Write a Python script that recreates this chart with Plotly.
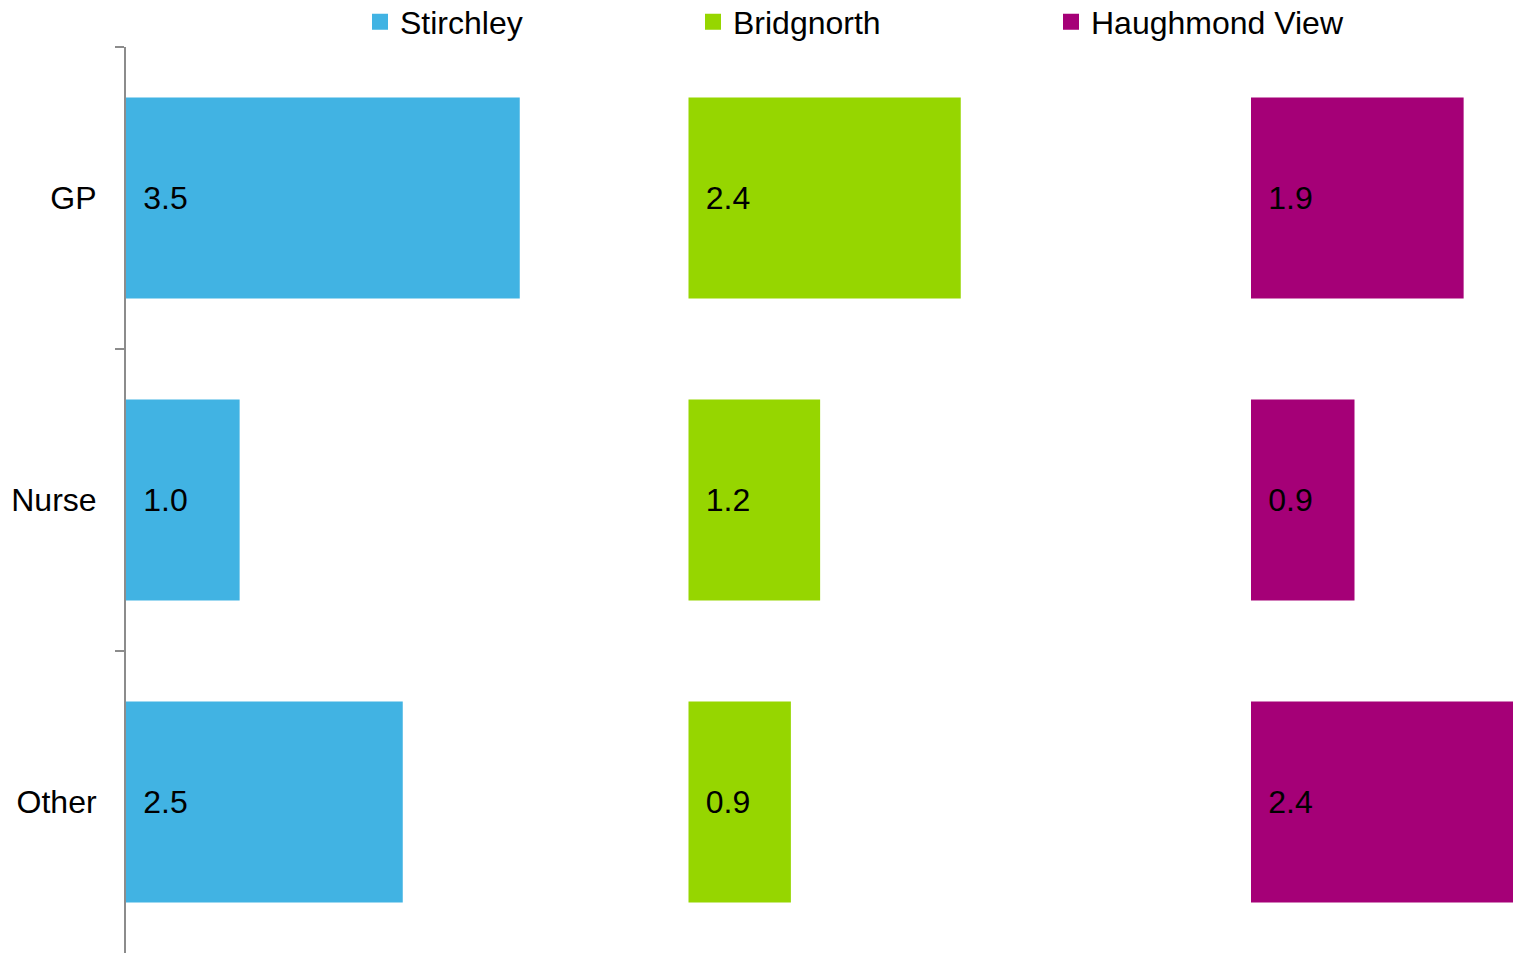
import plotly.graph_objects as go

categories = ["GP", "Nurse", "Other"]
series_names = ["Stirchley", "Bridgnorth", "Haughmond View"]
stirchley = [3.50, 1.01, 2.46]
bridgnorth = [2.42, 1.17, 0.91]
haughmond = [1.89, 0.92, 2.40]

series_values = [stirchley, bridgnorth, haughmond]
colors = ["#41B3E3", "#96D600", "#A50077"]
panel_base = [0, 5, 10]          # panel offsets on the value axis
legend_x_px = [360, 693, 1051]   # legend positions in pixels

W, H = 1513, 953
FONT = "Liberation Sans, Arial, sans-serif"
FS = 32

fig = go.Figure()
legend_ids = ["legend", "legend2", "legend3"]
for name, vals, col, base, lid in zip(series_names, series_values, colors, panel_base, legend_ids):
    fig.add_trace(go.Bar(
        y=categories, x=vals, base=base, orientation="h",
        marker=dict(color=col, line=dict(width=0)),
        texttemplate="\u00a0\u2006%{x:.1f}", textposition="inside",
        insidetextanchor="start", textangle=0,
        textfont=dict(family=FONT, size=FS, color="#000000"),
        cliponaxis=True, showlegend=False, name=name, hoverinfo="skip",
    ))
    fig.add_trace(go.Scatter(
        x=[None], y=[None], mode="markers", name=name,
        marker=dict(symbol="square", size=16, color=col),
        showlegend=True, legend=lid,
    ))

layout_legends = {}
for lid, lx in zip(legend_ids, legend_x_px):
    layout_legends[lid] = dict(
        x=lx / W, xref="container", xanchor="left",
        y=1 - 22 / H, yref="container", yanchor="middle",
        orientation="h", bgcolor="rgba(0,0,0,0)",
        font=dict(family=FONT, size=FS, color="#000000"),
        itemsizing="trace",
    )

fig.update_layout(
    width=W, height=H,
    margin=dict(l=126, r=0, t=47, b=0, autoexpand=False),
    plot_bgcolor="white", paper_bgcolor="white",
    barmode="overlay", bargap=0.334,
    font=dict(family=FONT, size=FS, color="#000000"),
    xaxis=dict(visible=False, range=[0, (W - 126) / 112.5], fixedrange=True),
    yaxis=dict(
        autorange="reversed", showgrid=False, zeroline=False,
        showline=True, linecolor="#8C8C8C", linewidth=2,
        ticks="outside", ticklen=9, tickwidth=2, tickcolor="#8C8C8C",
        tickson="boundaries", ticklabelstandoff=21,
        tickfont=dict(family=FONT, size=FS, color="#000000"),
    ),
    **layout_legends,
)

fig.write_html(
    "out.html",
    config={"displayModeBar": False},
    post_script="document.body.style.margin='0';document.body.style.overflow='hidden';",
)
